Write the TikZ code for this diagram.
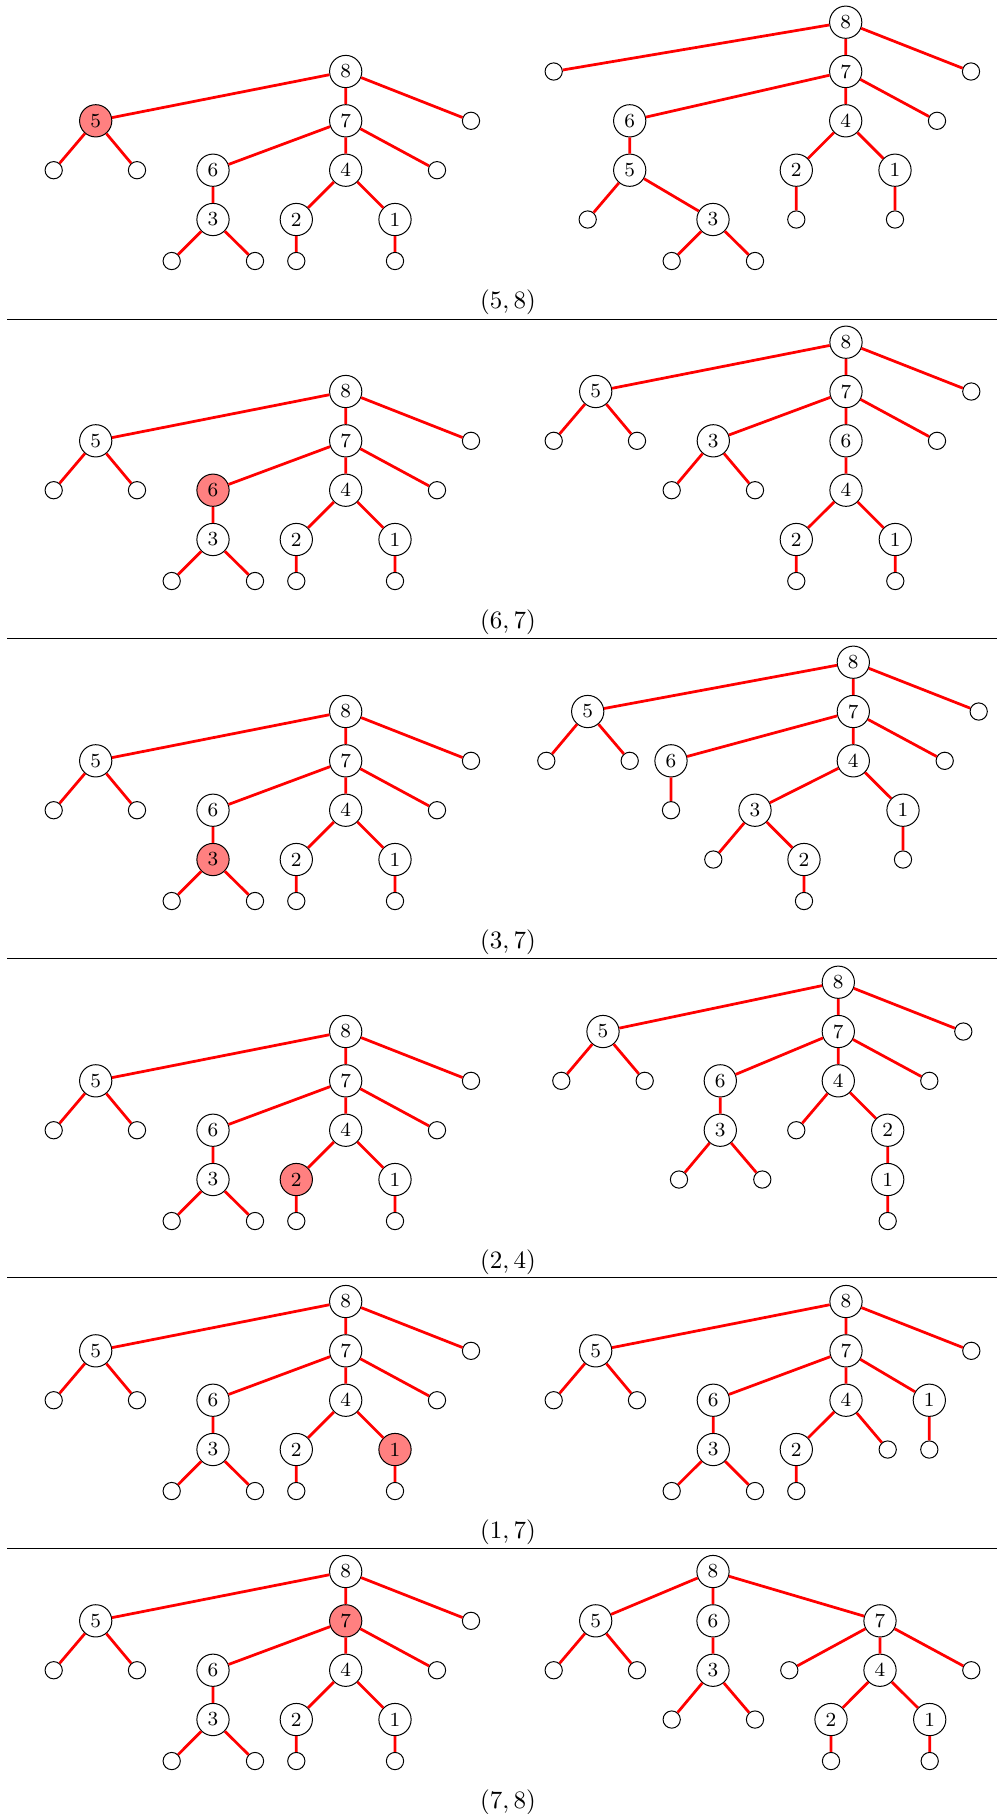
\documentclass[tikz,border=0pt]{standalone}
\definecolor{hlred}{RGB}{255,128,128}
\tikzset{
 inode/.style={circle, draw=black, line width=0.4pt, minimum size=12.9pt, inner sep=0pt, font=\footnotesize},
 lfnode/.style={circle, draw=black, line width=0.4pt, minimum size=6.9pt, inner sep=0pt},
 redge/.style={red, line width=1.1pt},
 lbl/.style={inner sep=0pt},
 sepline/.style={black, line width=0.4pt},
 hl1/.style={}, hl2/.style={}, hl3/.style={}, hl4/.style={},
 hl5/.style={}, hl6/.style={}, hl7/.style={}, hl8/.style={}
}
\def\yo{0}
\def\yi{-41.5}
\def\yii{-90.8}
\def\yiii{-140.2}
\def\yiv{-189.5}
\def\yv{-238.8}
\newcommand{\LeftTree}[2]{%
\begin{scope}[hl#2/.style={fill=hlred}]
\node[inode,hl8] (#1n8) at (345.7,\yiv) {8};
\node[inode,hl5] (#1n5) at (95.7,\yiii) {5};
\node[inode,hl7] (#1n7) at (345.7,\yiii) {7};
\node[lfnode] (#1la) at (471,\yiii) {};
\node[lfnode] (#1lb) at (53.7,\yii) {};
\node[lfnode] (#1lc) at (137,\yii) {};
\node[inode,hl6] (#1n6) at (213,\yii) {6};
\node[inode,hl4] (#1n4) at (345.7,\yii) {4};
\node[lfnode] (#1ld) at (437,\yii) {};
\node[inode,hl3] (#1n3) at (213,\yi) {3};
\node[inode,hl2] (#1n2) at (296.3,\yi) {2};
\node[inode,hl1] (#1n1) at (395,\yi) {1};
\node[lfnode] (#1le) at (171.7,\yo) {};
\node[lfnode] (#1lf) at (255,\yo) {};
\node[lfnode] (#1lg) at (296.3,\yo) {};
\node[lfnode] (#1lh) at (395,\yo) {};
\draw[redge] (#1n8)--(#1n5) (#1n8)--(#1n7) (#1n8)--(#1la)
 (#1n5)--(#1lb) (#1n5)--(#1lc) (#1n7)--(#1n6) (#1n7)--(#1n4) (#1n7)--(#1ld)
 (#1n6)--(#1n3) (#1n4)--(#1n2) (#1n4)--(#1n1)
 (#1n3)--(#1le) (#1n3)--(#1lf) (#1n2)--(#1lg) (#1n1)--(#1lh);
\end{scope}}
\begin{document}
\begin{tikzpicture}[x=0.4pt,y=-0.4pt]
\useasboundingbox (0,0) rectangle (997,1814);
% ---------------- panel 1
\begin{scope}[yshift=-104.4pt]
\LeftTree{aL}{5}
\node[inode] (aRn8) at (845.7,\yv) {8};
\node[lfnode] (aRla) at (553.7,\yiv) {};
\node[inode] (aRn7) at (845.7,\yiv) {7};
\node[lfnode] (aRlb) at (971,\yiv) {};
\node[inode] (aRn6) at (629.7,\yiii) {6};
\node[inode] (aRn4) at (845.7,\yiii) {4};
\node[lfnode] (aRlc) at (937,\yiii) {};
\node[inode] (aRn5) at (629.7,\yii) {5};
\node[inode] (aRn2) at (796.3,\yii) {2};
\node[inode] (aRn1) at (895,\yii) {1};
\node[lfnode] (aRld) at (587.7,\yi) {};
\node[inode] (aRn3) at (713,\yi) {3};
\node[lfnode] (aRle) at (796.3,\yi) {};
\node[lfnode] (aRlf) at (895,\yi) {};
\node[lfnode] (aRlg) at (671.7,\yo) {};
\node[lfnode] (aRlh) at (755,\yo) {};
\draw[redge] (aRn8)--(aRla) (aRn8)--(aRn7) (aRn8)--(aRlb) (aRn7)--(aRn6) (aRn7)--(aRn4) (aRn7)--(aRlc)
 (aRn6)--(aRn5) (aRn4)--(aRn2) (aRn4)--(aRn1) (aRn5)--(aRld) (aRn5)--(aRn3) (aRn2)--(aRle) (aRn1)--(aRlf)
 (aRn3)--(aRlg) (aRn3)--(aRlh);
\node[lbl] (aLab) at (508,41.5) {$(5,8)$};
\draw[sepline] (7,58) -- (997,58);
\end{scope}
% ---------------- panel 2
\begin{scope}[yshift=-232.4pt]
\LeftTree{bL}{6}
\node[inode] (bRn8) at (846,\yv) {8};
\node[inode] (bRn5) at (595.7,\yiv) {5};
\node[inode] (bRn7) at (846,\yiv) {7};
\node[lfnode] (bRla) at (971.3,\yiv) {};
\node[lfnode] (bRlb) at (553.7,\yiii) {};
\node[lfnode] (bRlc) at (637,\yiii) {};
\node[inode] (bRn3) at (713.3,\yiii) {3};
\node[inode] (bRn6) at (846,\yiii) {6};
\node[lfnode] (bRld) at (937,\yiii) {};
\node[lfnode] (bRle) at (671.7,\yii) {};
\node[lfnode] (bRlf) at (755,\yii) {};
\node[inode] (bRn4) at (846,\yii) {4};
\node[inode] (bRn2) at (796.3,\yi) {2};
\node[inode] (bRn1) at (895.3,\yi) {1};
\node[lfnode] (bRlg) at (796.3,\yo) {};
\node[lfnode] (bRlh) at (895.3,\yo) {};
\draw[redge] (bRn8)--(bRn5) (bRn8)--(bRn7) (bRn8)--(bRla) (bRn5)--(bRlb) (bRn5)--(bRlc)
 (bRn7)--(bRn3) (bRn7)--(bRn6) (bRn7)--(bRld) (bRn3)--(bRle) (bRn3)--(bRlf) (bRn6)--(bRn4)
 (bRn4)--(bRn2) (bRn4)--(bRn1) (bRn2)--(bRlg) (bRn1)--(bRlh);
\node[lbl] (bLab) at (508,41.5) {$(6,7)$};
\draw[sepline] (7,57.5) -- (997,57.5);
\end{scope}
% ---------------- panel 3
\begin{scope}[yshift=-360.4pt]
\LeftTree{cL}{3}
\node[inode] (cRn8) at (853.3,\yv) {8};
\node[inode] (cRn5) at (587.7,\yiv) {5};
\node[inode] (cRn7) at (853.3,\yiv) {7};
\node[lfnode] (cRla) at (978.7,\yiv) {};
\node[lfnode] (cRlb) at (546.3,\yiii) {};
\node[lfnode] (cRlc) at (629.7,\yiii) {};
\node[inode] (cRn6) at (671,\yiii) {6};
\node[inode] (cRn4) at (853.3,\yiii) {4};
\node[lfnode] (cRld) at (944.7,\yiii) {};
\node[lfnode] (cRle) at (671,\yii) {};
\node[inode] (cRn3) at (755,\yii) {3};
\node[inode] (cRn1) at (903,\yii) {1};
\node[lfnode] (cRlf) at (713.3,\yi) {};
\node[inode] (cRn2) at (804,\yi) {2};
\node[lfnode] (cRlg) at (903,\yi) {};
\node[lfnode] (cRlh) at (804,\yo) {};
\draw[redge] (cRn8)--(cRn5) (cRn8)--(cRn7) (cRn8)--(cRla) (cRn5)--(cRlb) (cRn5)--(cRlc)
 (cRn7)--(cRn6) (cRn7)--(cRn4) (cRn7)--(cRld) (cRn6)--(cRle) (cRn4)--(cRn3) (cRn4)--(cRn1)
 (cRn3)--(cRlf) (cRn3)--(cRn2) (cRn1)--(cRlg) (cRn2)--(cRlh);
\node[lbl] (cLab) at (508,41.5) {$(3,7)$};
\draw[sepline] (7,57) -- (997,57);
\end{scope}
% ---------------- panel 4
\begin{scope}[yshift=-488.4pt]
\LeftTree{dL}{2}
\node[inode] (dRn8) at (838.3,\yv) {8};
\node[inode] (dRn5) at (603,\yiv) {5};
\node[inode] (dRn7) at (838.3,\yiv) {7};
\node[lfnode] (dRla) at (963.3,\yiv) {};
\node[lfnode] (dRlb) at (561.3,\yiii) {};
\node[lfnode] (dRlc) at (644.7,\yiii) {};
\node[inode] (dRn6) at (720.3,\yiii) {6};
\node[inode] (dRn4) at (838.3,\yiii) {4};
\node[lfnode] (dRld) at (929.3,\yiii) {};
\node[inode] (dRn3) at (720.3,\yii) {3};
\node[lfnode] (dRle) at (796.3,\yii) {};
\node[inode] (dRn2) at (887.7,\yii) {2};
\node[lfnode] (dRlf) at (679,\yi) {};
\node[lfnode] (dRlg) at (762.3,\yi) {};
\node[inode] (dRn1) at (887.7,\yi) {1};
\node[lfnode] (dRlh) at (887.7,\yo) {};
\draw[redge] (dRn8)--(dRn5) (dRn8)--(dRn7) (dRn8)--(dRla) (dRn5)--(dRlb) (dRn5)--(dRlc)
 (dRn7)--(dRn6) (dRn7)--(dRn4) (dRn7)--(dRld) (dRn6)--(dRn3) (dRn4)--(dRle) (dRn4)--(dRn2)
 (dRn3)--(dRlf) (dRn3)--(dRlg) (dRn2)--(dRn1) (dRn1)--(dRlh);
\node[lbl] (dLab) at (508,41.5) {$(2,4)$};
\draw[sepline] (7,56.5) -- (997,56.5);
\end{scope}
% ---------------- panel 5
\begin{scope}[yshift=-596.4pt]
\LeftTree{eL}{1}
\node[inode] (eRn8) at (846,\yiv) {8};
\node[inode] (eRn5) at (595.7,\yiii) {5};
\node[inode] (eRn7) at (846,\yiii) {7};
\node[lfnode] (eRla) at (971.3,\yiii) {};
\node[lfnode] (eRlb) at (553.7,\yii) {};
\node[lfnode] (eRlc) at (637,\yii) {};
\node[inode] (eRn6) at (713.3,\yii) {6};
\node[inode] (eRn4) at (846,\yii) {4};
\node[inode] (eRn1) at (929.3,\yii) {1};
\node[inode] (eRn3) at (713.3,\yi) {3};
\node[inode] (eRn2) at (796.3,\yi) {2};
\node[lfnode] (eRld) at (887.7,\yi) {};
\node[lfnode] (eRle) at (929.3,\yi) {};
\node[lfnode] (eRlf) at (671.7,\yo) {};
\node[lfnode] (eRlg) at (755,\yo) {};
\node[lfnode] (eRlh) at (796.3,\yo) {};
\draw[redge] (eRn8)--(eRn5) (eRn8)--(eRn7) (eRn8)--(eRla) (eRn5)--(eRlb) (eRn5)--(eRlc)
 (eRn7)--(eRn6) (eRn7)--(eRn4) (eRn7)--(eRn1) (eRn6)--(eRn3) (eRn4)--(eRn2) (eRn4)--(eRld)
 (eRn1)--(eRle) (eRn3)--(eRlf) (eRn3)--(eRlg) (eRn2)--(eRlh);
\node[lbl] (eLab) at (508,41.5) {$(1,7)$};
\draw[sepline] (7,57.5) -- (997,57.5);
\end{scope}
% ---------------- panel 6
\begin{scope}[yshift=-704.4pt]
\LeftTree{fL}{7}
\node[inode] (fRn8) at (713,\yiv) {8};
\node[inode] (fRn5) at (595.7,\yiii) {5};
\node[inode] (fRn6) at (713,\yiii) {6};
\node[inode] (fRn7) at (880,\yiii) {7};
\node[lfnode] (fRlb) at (553.7,\yii) {};
\node[lfnode] (fRlc) at (637,\yii) {};
\node[inode] (fRn3) at (713,\yii) {3};
\node[lfnode] (fRla) at (789.3,\yii) {};
\node[inode] (fRn4) at (880,\yii) {4};
\node[lfnode] (fRld) at (971.3,\yii) {};
\node[lfnode] (fRle) at (671.7,\yi) {};
\node[lfnode] (fRlf) at (755,\yi) {};
\node[inode] (fRn2) at (831,\yi) {2};
\node[inode] (fRn1) at (929.7,\yi) {1};
\node[lfnode] (fRlg) at (831,\yo) {};
\node[lfnode] (fRlh) at (929.7,\yo) {};
\draw[redge] (fRn8)--(fRn5) (fRn8)--(fRn6) (fRn8)--(fRn7) (fRn5)--(fRlb) (fRn5)--(fRlc)
 (fRn6)--(fRn3) (fRn3)--(fRle) (fRn3)--(fRlf) (fRn7)--(fRla) (fRn7)--(fRn4) (fRn7)--(fRld)
 (fRn4)--(fRn2) (fRn4)--(fRn1) (fRn2)--(fRlg) (fRn1)--(fRlh);
\node[lbl] (fLab) at (508,41.5) {$(7,8)$};
\end{scope}
\end{tikzpicture}
\end{document}
